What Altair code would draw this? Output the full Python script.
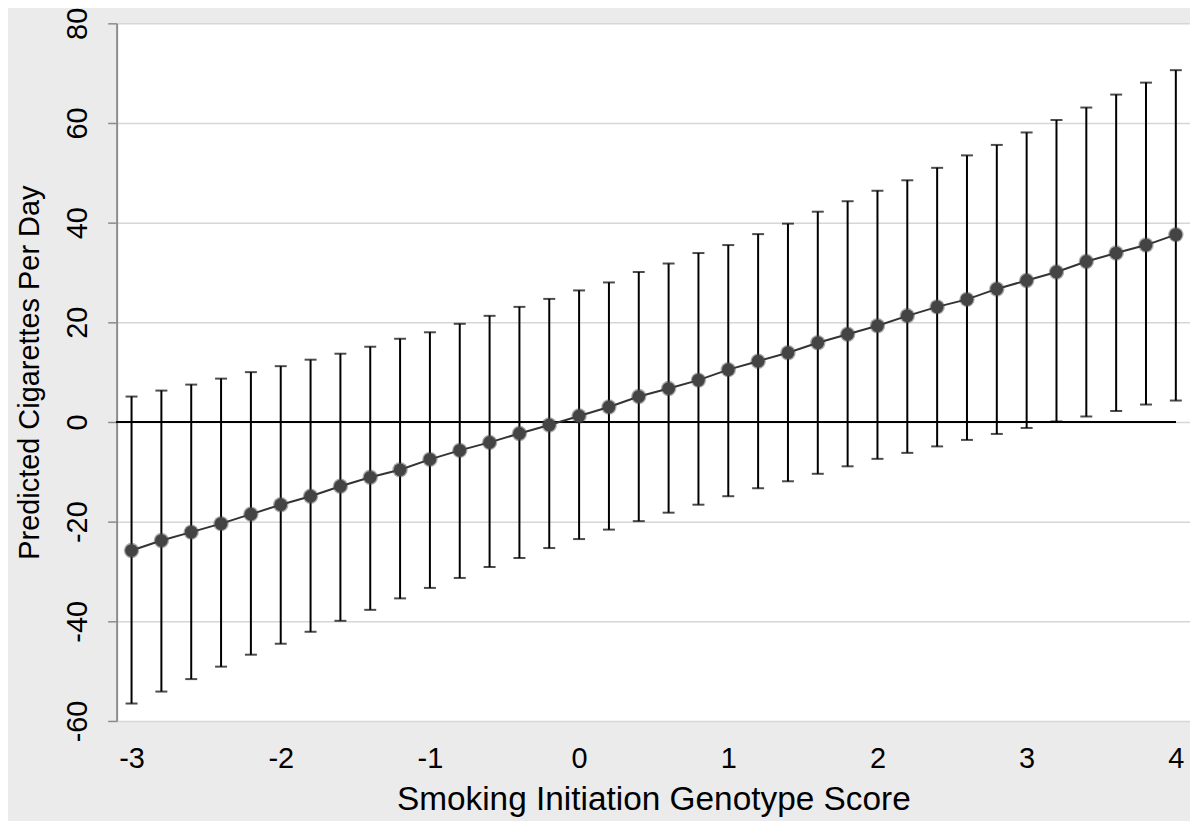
import altair as alt
import pandas as pd

score = [-3.0, -2.8, -2.6, -2.4, -2.2, -2.0, -1.8, -1.6, -1.4, -1.2, -1.0, -0.8,
         -0.6, -0.4, -0.2, 0.0, 0.2, 0.4, 0.6, 0.8, 1.0, 1.2, 1.4, 1.6,
         1.8, 2.0, 2.2, 2.4, 2.6, 2.8, 3.0, 3.2, 3.4, 3.6, 3.8, 4.0]
predicted = [-25.8, -23.8, -22.1, -20.4, -18.5, -16.6, -14.9, -12.9, -11.1, -9.6, -7.5, -5.7,
             -4.1, -2.3, -0.6, 1.2, 3.0, 5.1, 6.7, 8.4, 10.5, 12.2, 13.9, 15.9,
             17.6, 19.3, 21.3, 23.1, 24.6, 26.7, 28.4, 30.1, 32.2, 33.9, 35.5, 37.6]
upper = [5.1, 6.3, 7.5, 8.7, 10.0, 11.2, 12.5, 13.7, 15.1, 16.7, 18.0, 19.7,
         21.3, 23.1, 24.7, 26.4, 28.0, 30.1, 31.8, 33.9, 35.5, 37.7, 39.8, 42.2,
         44.3, 46.4, 48.5, 51.0, 53.5, 55.6, 58.1, 60.6, 63.1, 65.7, 68.1, 70.6]
lower = [-56.5, -54.1, -51.6, -49.1, -46.7, -44.5, -42.1, -39.9, -37.7, -35.4, -33.3, -31.3,
         -29.1, -27.3, -25.3, -23.5, -21.6, -19.9, -18.2, -16.6, -14.9, -13.3, -11.9, -10.4,
         -8.9, -7.4, -6.2, -4.9, -3.6, -2.4, -1.2, 0.1, 1.1, 2.2, 3.5, 4.3]

x_ticks = [-3, -2, -1, 0, 1, 2, 3, 4]
y_ticks = [-60, -40, -20, 0, 20, 40, 60, 80]

df = pd.DataFrame({"score": score, "pred": predicted, "upper": upper, "lower": lower})

FONT = "Liberation Sans"

x_scale = alt.Scale(domain=[-3.1, 4.095], nice=False, zero=False)
y_scale = alt.Scale(domain=[-60, 80], nice=False, zero=False)

x_enc = alt.X("score:Q", scale=x_scale,
              axis=alt.Axis(values=x_ticks, title="Smoking Initiation Genotype Score",
                            labelExpr="'' + datum.value",
                            grid=False, domain=False, ticks=False,
                            labelFontSize=29, labelPadding=24, labelColor="#000",
                            titleFontSize=33.5, titlePadding=10, titleColor="#000",
                            titleFontWeight="normal", labelFlush=False))
y_axis = alt.Axis(values=y_ticks, title="Predicted Cigarettes Per Day",
                  labelExpr="'' + datum.value",
                  grid=True, gridColor="#d6d6d6", gridWidth=1.5,
                  domain=True, domainColor="#8c8c8c", domainWidth=2,
                  ticks=True, tickColor="#8c8c8c", tickSize=9, tickWidth=1.5,
                  labelAngle=270, labelAlign="center", labelBaseline="bottom",
                  labelFontSize=29, labelPadding=15, labelColor="#000", labelFlush=False,
                  titleFontSize=29, titlePadding=19, titleColor="#000",
                  titleFontWeight="normal")

base = alt.Chart(df)

zero = base.mark_rule(color="#000", strokeWidth=2).encode(
    x=alt.datum(-3.1),
    x2=alt.datum(4.0),
    y=alt.datum(0),
)

bars = base.mark_rule(color="#000", strokeWidth=2).encode(
    x=x_enc,
    y=alt.Y("lower:Q", scale=y_scale, axis=y_axis),
    y2="upper:Q",
)
cap_hi = base.mark_tick(color="#000", thickness=2, size=12, orient="horizontal").encode(
    x=alt.X("score:Q", scale=x_scale), y=alt.Y("upper:Q", scale=y_scale),
)
cap_lo = base.mark_tick(color="#000", thickness=2, size=12, orient="horizontal").encode(
    x=alt.X("score:Q", scale=x_scale), y=alt.Y("lower:Q", scale=y_scale),
)
line = base.mark_line(color="#333333", strokeWidth=2).encode(
    x=alt.X("score:Q", scale=x_scale), y=alt.Y("pred:Q", scale=y_scale),
)
halo = base.mark_circle(color="#444444", opacity=0.45, size=240).encode(
    x=alt.X("score:Q", scale=x_scale), y=alt.Y("pred:Q", scale=y_scale),
)
dots = base.mark_circle(color="#444444", opacity=1, size=165).encode(
    x=alt.X("score:Q", scale=x_scale), y=alt.Y("pred:Q", scale=y_scale),
)

chart = alt.layer(bars, zero, cap_hi, cap_lo, line, halo, dots).properties(
    width=1077, height=700,
    autosize=alt.AutoSizeParams(type="none"),
    padding={"left": 109, "top": 14, "right": 0, "bottom": 99},
    background="#ebebeb",
).configure_view(fill="#ffffff", strokeWidth=0).configure_axis(
    labelFont=FONT, titleFont=FONT
)

chart.save("out.html", embed_options={"renderer": "svg", "actions": False})
